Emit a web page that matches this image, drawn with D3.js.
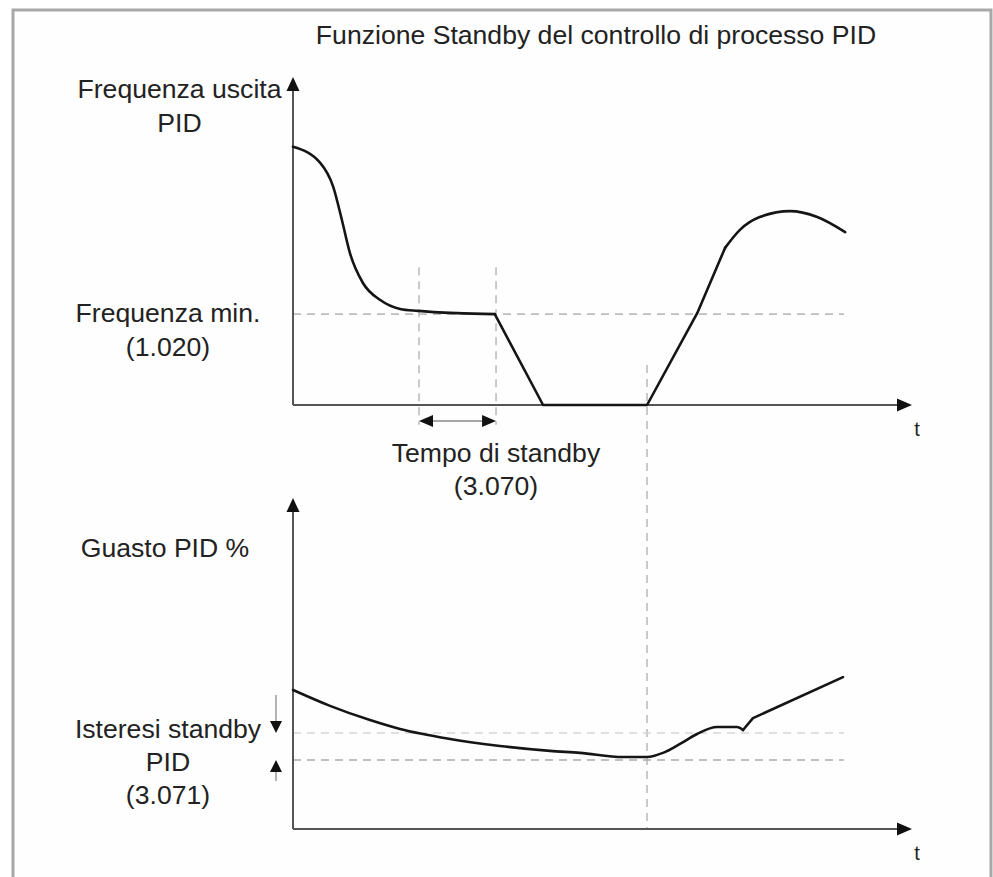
<!DOCTYPE html>
<html>
<head>
<meta charset="utf-8">
<script src="https://cdn.jsdelivr.net/npm/d3@7"></script>
<style>
  html, body { margin: 0; padding: 0; background: #ffffff; }
  svg { display: block; }
  text { font-family: "Liberation Sans", Arial, Helvetica, sans-serif; fill: #222; }
</style>
</head>
<body>
<svg id="chart" width="993" height="877"></svg>
<script>
// ---------- data (arbitrary schematic units: time 0..100, value 0..100) ----------
const titleText = "Funzione Standby del controllo di processo PID";

// Top panel: PID output frequency
const freqSmoothStart = [[0,78.7],[4.4,73.8],[6.5,66.5],[7.9,56.4],[9.2,46.3],[11.3,37.2],[14.1,32.0],[17.3,29.3],[20.2,28.7],[26.5,28.0],[32.6,27.7]];
const freqRamp = [[32.6,27.7],[40.4,0],[57.2,0],[65.3,28.0],[69.8,47.9]];
const freqSmoothEnd = [[69.8,47.9],[72.2,53.4],[75.4,57.3],[80.3,59.1],[84.7,57.3],[89.2,52.7]];

// Bottom panel: PID error %
const errorSmooth = [[0,42.0],[5.98,37.2],[12.44,32.9],[17.29,30.2],[25.36,27.2],[33.44,25.1],[41.52,23.6],[46.37,23.0],[53.31,21.75],[57.19,21.75],[59.77,23.0],[62.52,25.7],[65.27,28.7],[68.5,30.8],[71.73,30.8],[72.7,29.9]];
const errorTail = [[72.7,29.9],[74.31,33.5],[88.85,45.9]];

// reference levels / times
const minFreqLevel = 27.7;
const hysteresisHigh = 29.0;
const hysteresisLow = 20.85;
const standbyStart = 20.36;
const standbyEnd = 32.8;
const wakeTime = 57.19;
const refLineEnd = 89.0;

const topLabels = [["Frequenza uscita","PID"],["Frequenza min.","(1.020)"]];
const standbyLabel = ["Tempo di standby","(3.070)"];
const bottomLabels = [["Guasto PID %"],["Isteresi standby","PID","(3.071)"]];
const axisUnit = "t";

// ---------- drawing ----------
const svg = d3.select("#chart");

// frame
svg.append("rect").attr("x", 13).attr("y", 10).attr("width", 978).attr("height", 900)
  .attr("fill", "#fefefe").attr("stroke", "#a8a8a8").attr("stroke-width", 3);

const xS = d3.scaleLinear().domain([0,100]).range([293,912]);
const yTop = d3.scaleLinear().domain([0,100]).range([405,77]);
const yBot = d3.scaleLinear().domain([0,100]).range([829,498]);

const axisColor = "#555";
const dashColor = "#bdbdbd";

function arrowHead(g, x, y, dir, w, h, color) {
  let pts;
  if (dir === "up") pts = [[x,y],[x-w/2,y+h],[x+w/2,y+h]];
  else if (dir === "down") pts = [[x,y],[x-w/2,y-h],[x+w/2,y-h]];
  else if (dir === "right") pts = [[x,y],[x-h,y-w/2],[x-h,y+w/2]];
  else pts = [[x,y],[x+h,y-w/2],[x+h,y+w/2]];
  g.append("polygon").attr("points", pts.map(p => p.join(",")).join(" ")).attr("fill", color || "#111");
}

function drawAxes(yS) {
  const g = svg.append("g");
  const x0 = xS(0), y0 = yS(0);
  g.append("line").attr("x1", x0).attr("x2", x0).attr("y1", y0).attr("y2", yS(100) + 10)
    .attr("stroke", axisColor).attr("stroke-width", 2);
  g.append("line").attr("x1", x0).attr("x2", xS(100) - 10).attr("y1", y0).attr("y2", y0)
    .attr("stroke", axisColor).attr("stroke-width", 2);
  arrowHead(g, x0, yS(100), "up", 13, 14);
  arrowHead(g, xS(100), y0, "right", 13, 15);
  g.append("text").attr("x", xS(100) + 5).attr("y", y0 + 31).attr("text-anchor", "middle")
    .attr("font-size", 20).attr("fill", "#444").text(axisUnit);
}

function dashedH(yS, v, color, x1, x2) {
  svg.append("line").attr("x1", xS(x1)).attr("x2", xS(x2)).attr("y1", yS(v)).attr("y2", yS(v))
    .attr("stroke", color).attr("stroke-width", 1.6).attr("stroke-dasharray", "8,6");
}
function dashedV(t, y1, y2, color) {
  svg.append("line").attr("x1", xS(t)).attr("x2", xS(t)).attr("y1", y1).attr("y2", y2)
    .attr("stroke", color).attr("stroke-width", 1.6).attr("stroke-dasharray", "8,6");
}

// ---- top panel ----
dashedH(yTop, minFreqLevel, dashColor, 0, refLineEnd);
dashedV(standbyStart, yTop(42), yTop(-6), dashColor);
dashedV(standbyEnd, yTop(42), yTop(-6), dashColor);
dashedV(wakeTime, yTop(12.2), yBot(0), dashColor);

drawAxes(yTop);

const lineTop = d3.line().x(d => xS(d[0])).y(d => yTop(d[1]));
const curveStyle = sel => sel.attr("fill", "none").attr("stroke", "#151515").attr("stroke-width", 2.6)
  .attr("stroke-linejoin", "round").attr("stroke-linecap", "round");
svg.append("path").datum(freqSmoothStart).attr("d", lineTop.curve(d3.curveMonotoneX)).call(curveStyle);
svg.append("path").datum(freqRamp).attr("d", lineTop.curve(d3.curveLinear)).call(curveStyle);
svg.append("path").datum(freqSmoothEnd).attr("d", lineTop.curve(d3.curveMonotoneX)).call(curveStyle);

// standby time double arrow
{
  const g = svg.append("g");
  const ya = yTop(-4.9);
  g.append("line").attr("x1", xS(standbyStart) + 10).attr("x2", xS(standbyEnd) - 10)
    .attr("y1", ya).attr("y2", ya).attr("stroke", "#888").attr("stroke-width", 1.5);
  arrowHead(g, xS(standbyStart), ya, "left", 12, 14);
  arrowHead(g, xS(standbyEnd), ya, "right", 12, 14);
}

// ---- bottom panel ----
dashedH(yBot, hysteresisHigh, "#d6d6d6", 0, refLineEnd);
dashedH(yBot, hysteresisLow, "#a9a9a9", 0, refLineEnd);
drawAxes(yBot);

const lineBot = d3.line().x(d => xS(d[0])).y(d => yBot(d[1]));
svg.append("path").datum(errorSmooth).attr("d", lineBot.curve(d3.curveMonotoneX)).call(curveStyle);
svg.append("path").datum(errorTail).attr("d", lineBot.curve(d3.curveLinear)).call(curveStyle);

// hysteresis arrows
{
  const g = svg.append("g");
  const xa = xS(-2.75);
  g.append("line").attr("x1", xa).attr("x2", xa).attr("y1", yBot(40.5)).attr("y2", yBot(hysteresisHigh) - 10)
    .attr("stroke", "#999").attr("stroke-width", 1.5);
  arrowHead(g, xa, yBot(hysteresisHigh), "down", 12, 12);
  g.append("line").attr("x1", xa).attr("x2", xa).attr("y1", yBot(hysteresisLow) + 10).attr("y2", yBot(14.5))
    .attr("stroke", "#999").attr("stroke-width", 1.5);
  arrowHead(g, xa, yBot(hysteresisLow), "up", 12, 12);
}

// ---- texts ----
const fs = 26.6;
function label(lines, cx, baseline, lh) {
  lines.forEach((s, i) => {
    svg.append("text").attr("x", cx).attr("y", baseline + i * lh).attr("text-anchor", "middle")
      .attr("font-size", fs).text(s);
  });
}
svg.append("text").attr("x", 596).attr("y", 44).attr("text-anchor", "middle").attr("font-size", fs).text(titleText);
label(topLabels[0], 179.5, 98, 34);
label(topLabels[1], 168, 322, 34);
label(standbyLabel, 496, 462, 33);
label(bottomLabels[0], 165, 557, 34);
label(bottomLabels[1], 168, 738, 33);
</script>
</body>
</html>
